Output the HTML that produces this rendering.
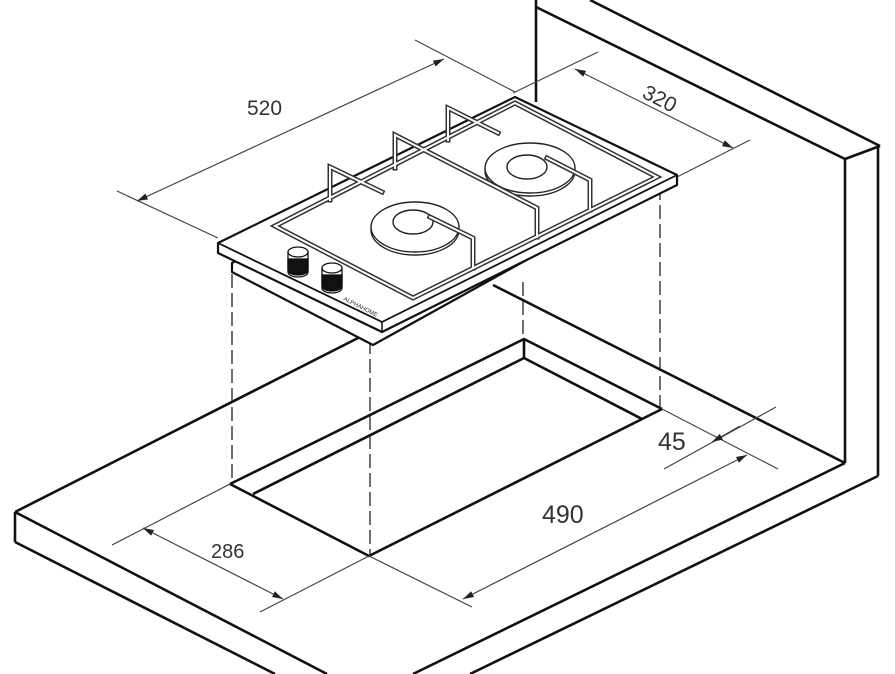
<!DOCTYPE html>
<html><head><meta charset="utf-8"><style>
html,body{margin:0;padding:0;background:#fff;}
svg{display:block;}
text{font-family:"Liberation Sans",sans-serif;fill:#333;}
</style></head><body>
<svg width="895" height="674" viewBox="0 0 895 674" xmlns="http://www.w3.org/2000/svg">
<defs>
<marker id="a" viewBox="0 0 10 10" refX="10" refY="5" markerWidth="9" markerHeight="9" orient="auto-start-reverse"><path d="M0,2 L10,5 L0,8 z" fill="#222"/></marker>
</defs>
<g fill="none" stroke="#111" stroke-width="2.6" stroke-linejoin="round">
<!-- wall -->
<line x1="536" y1="0" x2="536" y2="102"/>
<line x1="536" y1="7" x2="845" y2="159"/>
<line x1="590" y1="0" x2="880" y2="146"/>
<line x1="845" y1="159" x2="880" y2="146"/>
<line x1="845" y1="159" x2="845" y2="463"/>
<line x1="878" y1="146" x2="878" y2="476"/>
<line x1="493" y1="285" x2="845" y2="463"/>
<line x1="845" y1="463" x2="413" y2="674"/>
<line x1="878" y1="476" x2="470" y2="674"/>
<!-- counter -->
<line x1="15" y1="512" x2="360" y2="337"/>
<line x1="15" y1="512" x2="15" y2="542"/>
<line x1="15" y1="512" x2="327" y2="674"/>
<line x1="15" y1="542" x2="275" y2="674"/>
<!-- cutout -->
<polyline points="230,484 524,339 662,409"/>
<line x1="524" y1="339" x2="524" y2="358"/>
<polyline points="253,494 524,358 642,419"/>
<polyline points="230,484 369,556 662,409"/>
</g>
<!-- dashed verticals -->
<g stroke="#222" stroke-width="1.3" stroke-dasharray="14,5" fill="none">
<line x1="232" y1="274" x2="232" y2="484"/>
<line x1="370" y1="340" x2="370" y2="556"/>
<line x1="660" y1="186" x2="660" y2="409"/>
<line x1="523" y1="282" x2="523" y2="339"/>
</g>
<!-- dimension lines -->
<g stroke="#444" stroke-width="1.2" fill="none">
<line x1="117" y1="191" x2="218" y2="238"/>
<line x1="415" y1="40" x2="515" y2="92"/>
<line x1="137" y1="201" x2="444" y2="59" marker-start="url(#a)" marker-end="url(#a)"/>
<line x1="598" y1="52" x2="513" y2="93"/>
<line x1="750" y1="140" x2="677" y2="177"/>
<line x1="575" y1="69" x2="733" y2="148" marker-start="url(#a)" marker-end="url(#a)"/>
<line x1="662" y1="409" x2="778" y2="469"/>
<line x1="776" y1="407" x2="664" y2="469"/>
<line x1="740" y1="426" x2="712" y2="442" marker-end="url(#a)"/>
<line x1="369" y1="556" x2="472" y2="607"/>
<line x1="463" y1="599" x2="747" y2="455" marker-start="url(#a)" marker-end="url(#a)"/>
<line x1="230" y1="484" x2="112" y2="545"/>
<line x1="369" y1="556" x2="260" y2="612"/>
<line x1="143" y1="528" x2="283" y2="599" marker-start="url(#a)" marker-end="url(#a)"/>
</g>
<text x="247" y="115" font-size="21">520</text>
<text x="0" y="0" font-size="21" transform="translate(641,97) rotate(27)">320</text>
<text x="658" y="450" font-size="25">45</text>
<text x="542" y="523" font-size="25">490</text>
<text x="211" y="558" font-size="20">286</text>
<!-- hob -->
<g fill="#fff" stroke="#111" stroke-width="2.2" stroke-linejoin="round">
<polygon points="232,263 515,112 660,186 373,345 232,272"/>
<polygon points="218,243 218,253 382,332 677,185 677,175 515,97"/>
<line x1="218" y1="243" x2="382" y2="322" stroke-width="1.8"/>
<line x1="382" y1="322" x2="677" y2="175" stroke-width="1.8"/>
<line x1="382" y1="322" x2="382" y2="332" stroke-width="1.5"/>
</g>
<!-- burners -->
<g fill="#fff" stroke="#222" stroke-width="1.4">
<ellipse cx="415" cy="230" rx="44" ry="25"/>
<ellipse cx="415" cy="227" rx="44" ry="25"/>
<ellipse cx="413" cy="222" rx="20" ry="12"/>
<ellipse cx="530" cy="171" rx="45" ry="25"/>
<ellipse cx="530" cy="168" rx="45" ry="25"/>
<ellipse cx="527" cy="167" rx="20" ry="12"/>
</g>
<!-- grate -->
<g fill="none" stroke-linecap="square" stroke-linejoin="miter">
<g stroke="#333" stroke-width="5">
<polygon points="275,226 515,103 657,177 413,298"/>
<polyline points="395,168 395,135 537,208 537,237"/>
<polyline points="330,200 330,167 382,192"/>
<polyline points="448,140 448,108 498,133"/>
<polyline points="430,217 473,238 473,268"/>
<polyline points="547,158 590,180 590,210"/>
</g>
<g stroke="#fff" stroke-width="2">
<polygon points="275,226 515,103 657,177 413,298"/>
<polyline points="395,168 395,135 537,208 537,237"/>
<polyline points="330,200 330,167 382,192"/>
<polyline points="448,140 448,108 498,133"/>
<polyline points="430,217 473,238 473,268"/>
<polyline points="547,158 590,180 590,210"/>
</g>
</g>
<!-- knobs -->
<g stroke="#111" stroke-width="1.3">
<path d="M288,252 L288,272 A10,5 0 0 0 308,272 L308,252 Z" fill="#fff"/>
<path d="M288,259 L288,270 A10,5 0 0 0 308,270 L308,259 Z" fill="#111"/>
<ellipse cx="298" cy="252" rx="10" ry="5" fill="#fff"/>
<path d="M322,268 L322,288 A10,5 0 0 0 342,288 L342,268 Z" fill="#fff"/>
<path d="M322,275 L322,286 A10,5 0 0 0 342,286 L342,275 Z" fill="#111"/>
<ellipse cx="332" cy="268" rx="10" ry="5" fill="#fff"/>
</g>
<text x="0" y="0" font-size="6" transform="translate(343,300) rotate(27)" style="fill:#333">ALPHAHOME</text>
</svg>
</body></html>
